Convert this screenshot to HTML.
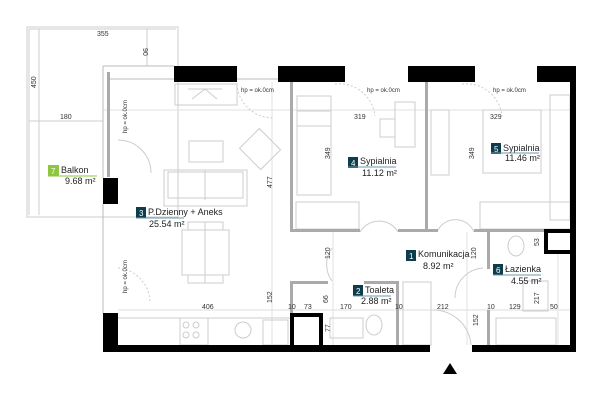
<!DOCTYPE html>
<html><head><meta charset="utf-8"><style>
html,body{margin:0;padding:0;background:#fff;width:600px;height:401px;overflow:hidden}
svg{display:block}
text{font-family:"Liberation Sans",sans-serif}
.d{font-size:7px;fill:#333}
.l{font-size:9px;fill:#222}
.n{font-size:8px;fill:#fff}
</style></head><body>
<svg width="600" height="401" viewBox="0 0 600 401">
<g fill="none" stroke="#ccc" stroke-width="1">
<!-- balcony -->
<rect x="27" y="27" width="151" height="190"/>
<line x1="29" y1="29" x2="29" y2="215"/>
<line x1="29" y1="29" x2="176" y2="29"/>
<line x1="29" y1="121" x2="103" y2="121"/>
<line x1="147" y1="29" x2="147" y2="66"/>
<line x1="39" y1="29" x2="39" y2="215"/>
<!-- grid lines -->
<line x1="103" y1="110" x2="575" y2="110" stroke="#e2e2e2"/>
<line x1="118" y1="310" x2="570" y2="310" stroke="#ddd"/>
<line x1="272" y1="82" x2="272" y2="345" stroke="#e2e2e2"/>
<line x1="333" y1="232" x2="333" y2="345" stroke="#e2e2e2"/>
<line x1="467" y1="232" x2="467" y2="345" stroke="#e2e2e2"/>
<line x1="558" y1="253" x2="558" y2="345" stroke="#e2e2e2"/>
<!-- living furniture -->
<rect x="175" y="84" width="62" height="21"/>
<line x1="188" y1="89" x2="222" y2="89"/>
<polyline points="192,99 205,89 217,99"/>
<rect x="189" y="141" width="34" height="21"/>
<rect x="164" y="170" width="83" height="36"/>
<line x1="205" y1="170" x2="205" y2="200"/>
<rect x="168" y="172" width="75" height="26"/>
<rect x="182" y="230" width="47" height="45"/>
<rect x="188" y="222" width="35" height="8"/>
<rect x="188" y="275" width="35" height="8"/>
<line x1="205" y1="222" x2="205" y2="283"/>
<rect x="245" y="135" width="30" height="28" transform="rotate(45 260 149)"/>
<line x1="118" y1="318" x2="290" y2="318"/>
<rect x="180" y="318" width="28" height="27"/>
<circle cx="186" cy="325" r="3"/><circle cx="196" cy="325" r="3"/>
<circle cx="186" cy="335" r="3"/><circle cx="196" cy="335" r="3"/>
<circle cx="243" cy="330" r="8"/>
<rect x="263" y="320" width="25" height="25"/>
<!-- doors -->
<path d="M118 140 A33 33 0 0 1 151 173"/>
<path d="M237 84 A36 36 0 0 0 273 118" stroke-dasharray="2,2"/>
<path d="M118 268 A35 35 0 0 1 150 303" stroke-dasharray="2,2"/>
<path d="M360 232 A22 22 0 0 1 398 232"/>
<path d="M437 232 A20 20 0 0 1 474 232"/>
<path d="M332 248 A28 28 0 0 0 332 281"/>
<path d="M483 268 A30 30 0 0 0 455 298"/>
<path d="M433 310 A38 38 0 0 1 471 345"/>
<path d="M335 84 A36 36 0 0 1 375 116" stroke-dasharray="2,2"/>
<path d="M462 84 A36 36 0 0 1 502 116" stroke-dasharray="2,2"/>
<!-- bedroom 4 -->
<rect x="297" y="96" width="34" height="30"/>
<rect x="297" y="111" width="34" height="84"/>
<rect x="296" y="202" width="63" height="27"/>
<rect x="395" y="102" width="20" height="45"/>
<rect x="380" y="119" width="15" height="18"/>
<!-- bedroom 5 -->
<rect x="431" y="110" width="18" height="65"/>
<rect x="483" y="110" width="58" height="63"/>
<rect x="550" y="95" width="20" height="125"/>
<rect x="480" y="202" width="92" height="27"/>
<!-- toilet / bath -->
<rect x="330" y="318" width="33" height="20"/>
<ellipse cx="374" cy="325" rx="8" ry="10"/>
<ellipse cx="516" cy="246" rx="8" ry="10"/>
<rect x="496" y="318" width="60" height="27"/>
<rect x="523" y="281" width="25" height="30"/>
<rect x="403" y="282" width="28" height="63"/>
</g>
<!-- grey partitions -->
<g fill="#aaa">
<rect x="290" y="82" width="3" height="150"/>
<rect x="290" y="229" width="70" height="3"/>
<rect x="398" y="229" width="40" height="3"/>
<rect x="425" y="82" width="3" height="150"/>
<rect x="474" y="229" width="70" height="3"/>
<rect x="487" y="229" width="3" height="40"/>
<rect x="487" y="310" width="3" height="36"/>
<rect x="290" y="281" width="38" height="3"/>
<rect x="364" y="281" width="35" height="3"/>
<rect x="290" y="281" width="3" height="35"/>
<rect x="396" y="281" width="3" height="64"/>
<rect x="107" y="72" width="3" height="105"/>
<rect x="110" y="78" width="168" height="2" fill="#ddd"/>
</g>
<!-- black walls -->
<g fill="#000">
<rect x="103" y="178" width="15" height="26"/>
<rect x="103" y="313" width="15" height="39"/>
<rect x="103" y="345" width="327" height="7"/>
<rect x="472" y="345" width="104" height="7"/>
<rect x="174" y="66" width="63" height="16"/>
<rect x="278" y="66" width="67" height="16"/>
<rect x="408" y="66" width="67" height="16"/>
<rect x="537" y="66" width="35" height="16"/>
<rect x="570" y="66" width="6" height="286"/>
<rect x="290" y="313" width="33" height="4"/>
<rect x="290" y="313" width="4" height="33"/>
<rect x="319" y="313" width="4" height="33"/>
<rect x="544" y="229" width="28" height="4"/>
<rect x="544" y="229" width="4" height="25"/>
<rect x="544" y="250" width="28" height="4"/>
</g>
<g fill="none" stroke="#bbb"><line x1="103" y1="66" x2="174" y2="66"/><line x1="103" y1="66" x2="103" y2="178"/><line x1="103" y1="204" x2="103" y2="313"/></g>
<polygon points="450,363 443,374 457,374" fill="#000"/>
<!-- dims -->
<text class="d" x="97" y="36">355</text>
<text class="d" x="60" y="119">180</text>
<text class="d" x="36" y="88" transform="rotate(-90 36 88)">450</text>
<text class="d" x="143" y="48" transform="rotate(90 143 48)">90</text>
<text class="d" x="241" y="92" style="font-size:6px">hp = ok.0cm</text>
<text class="d" x="367" y="92" style="font-size:6px">hp = ok.0cm</text>
<text class="d" x="493" y="92" style="font-size:6px">hp = ok.0cm</text>
<text class="d" x="127" y="133" transform="rotate(-90 127 133)" style="font-size:6px">hp = ok.0cm</text>
<text class="d" x="127" y="293" transform="rotate(-90 127 293)" style="font-size:6px">hp = ok.0cm</text>
<text class="d" x="354" y="119">319</text>
<text class="d" x="490" y="119">329</text>
<text class="d" x="272" y="188" transform="rotate(-90 272 188)">477</text>
<text class="d" x="330" y="159" transform="rotate(-90 330 159)">349</text>
<text class="d" x="474" y="159" transform="rotate(-90 474 159)">349</text>
<text class="d" x="202" y="309">406</text>
<text class="d" x="272" y="303" transform="rotate(-90 272 303)">152</text>
<text class="d" x="288" y="309">10</text>
<text class="d" x="304" y="309">73</text>
<text class="d" x="340" y="309">170</text>
<text class="d" x="395" y="309">10</text>
<text class="d" x="437" y="309">212</text>
<text class="d" x="487" y="309">10</text>
<text class="d" x="509" y="309">129</text>
<text class="d" x="550" y="309">50</text>
<text class="d" x="330" y="259" transform="rotate(-90 330 259)">120</text>
<text class="d" x="476" y="259" transform="rotate(-90 476 259)">120</text>
<text class="d" x="330" y="332" transform="rotate(-90 330 332)">77</text>
<text class="d" x="478" y="326" transform="rotate(-90 478 326)">152</text>
<text class="d" x="539" y="304" transform="rotate(-90 539 304)">217</text>
<text class="d" x="539" y="246" transform="rotate(-90 539 246)">53</text>
<text class="d" x="328" y="303" transform="rotate(-90 328 303)">66</text>
<!-- labels -->
<g>
<rect x="48" y="165" width="11" height="11" fill="#8dc63f"/><text class="n" x="51" y="174">7</text>
<text class="l" x="61" y="173">Balkon</text><line x1="48" y1="176" x2="97" y2="176" stroke="#8dc63f"/>
<text class="l" x="65" y="184">9.68 m²</text>

<rect x="136" y="207" width="10" height="11" fill="#0d3d4d"/><text class="n" x="139" y="216">3</text>
<text class="l" x="148" y="215">P.Dzienny + Aneks</text><line x1="136" y1="218" x2="184" y2="218" stroke="#6a9aaa"/>
<text class="l" x="149" y="227">25.54 m²</text>

<rect x="348" y="157" width="10" height="11" fill="#0d3d4d"/><text class="n" x="351" y="166">4</text>
<text class="l" x="360" y="164">Sypialnia</text><line x1="348" y1="167" x2="396" y2="167" stroke="#6a9aaa"/>
<text class="l" x="362" y="176">11.12 m²</text>

<rect x="491" y="143" width="10" height="11" fill="#0d3d4d"/><text class="n" x="494" y="152">5</text>
<text class="l" x="503" y="151">Sypialnia</text><line x1="491" y1="153" x2="539" y2="153" stroke="#6a9aaa"/>
<text class="l" x="505" y="161">11.46 m²</text>

<rect x="406" y="250" width="10" height="11" fill="#0d3d4d"/><text class="n" x="409" y="259">1</text>
<text class="l" x="418" y="257">Komunikacja</text>
<text class="l" x="423" y="269">8.92 m²</text>

<rect x="493" y="264" width="10" height="11" fill="#0d3d4d"/><text class="n" x="496" y="273">6</text>
<text class="l" x="505" y="272">Łazienka</text><line x1="493" y1="275" x2="541" y2="275" stroke="#6a9aaa"/>
<text class="l" x="511" y="284">4.55 m²</text>

<rect x="353" y="285" width="10" height="11" fill="#0d3d4d"/><text class="n" x="356" y="294">2</text>
<text class="l" x="365" y="293">Toaleta</text><line x1="353" y1="296" x2="391" y2="296" stroke="#6a9aaa"/>
<text class="l" x="361" y="304">2.88 m²</text>
</g>
</svg>
</body></html>
